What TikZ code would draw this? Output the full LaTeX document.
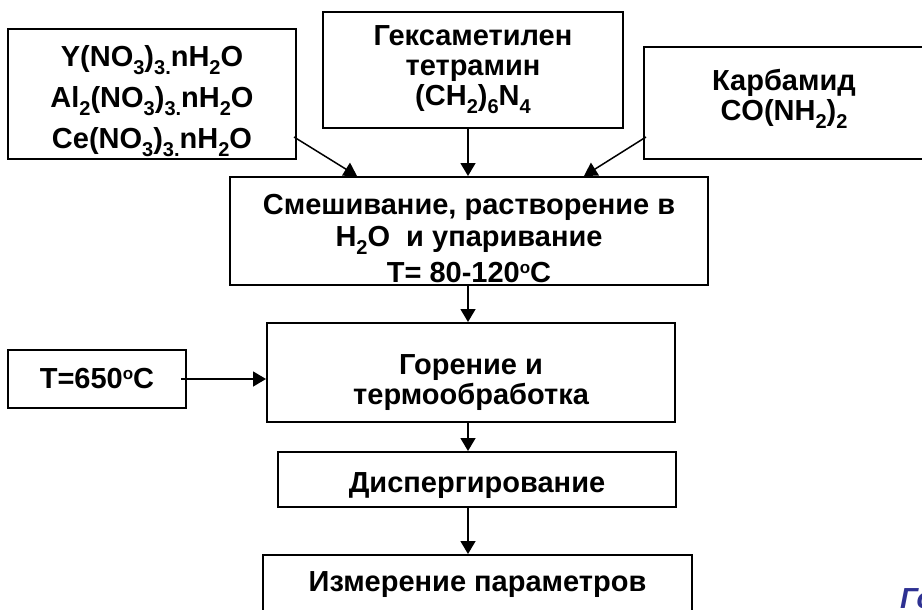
\documentclass[tikz,border=0pt]{standalone}
\usepackage{fontspec}
\setmainfont{Liberation Sans}
\usetikzlibrary{arrows.meta, positioning, calc}
\definecolor{figBlue}{HTML}{2E3192}
\newcommand{\subs}[1]{\raisebox{-8pt}{\fontsize{20}{20}\selectfont #1}}
\newcommand{\degr}{\raisebox{9pt}{\fontsize{17}{17}\selectfont o}}
\tikzset{
  arrowK/.style={-{Triangle[length=13pt, width=15pt]}, line width=1.5pt},
  boxK/.style={rectangle, draw=black, line width=2pt, align=center,
               font=\bfseries\fontsize{29}{30}\selectfont, inner sep=0pt},
}
\begin{document}
\begin{tikzpicture}[x=1pt, y=-1pt]
    \useasboundingbox (0,0) rectangle (922,610);
    \clip (0,0) rectangle (922,610);
    \node[boxK, minimum width=288pt, minimum height=130pt] (nitr) at (152,94)
      {\rule{0pt}{36pt}Y(NO\subs{3})\subs{3.}nH\subs{2}O\\[11pt]
       Al\subs{2}(NO\subs{3})\subs{3.}nH\subs{2}O\\[11pt]
       Ce(NO\subs{3})\subs{3.}nH\subs{2}O};
    \node[boxK, minimum width=300pt, minimum height=116pt] (hexa) at (473,70)
      {Гексаметилен\\тетрамин\\(CH\subs{2})\subs{6}N\subs{4}};
    \node[boxK, minimum width=280pt, minimum height=112pt] (urea) at (784,103)
      {Карбамид\\CO(NH\subs{2})\subs{2}\rule[-16pt]{0pt}{0pt}};
    \node[boxK, minimum width=478pt, minimum height=108pt] (mix) at (469,231)
      {\rule{0pt}{35pt}Смешивание, растворение в\\[2pt]
       H\subs{2}O~ и упаривание\\[6pt]
       T= 80-120\degr C};
    \node[boxK, minimum width=178pt, minimum height=58pt] (temp) at (97,379)
      {T=650\degr C};
    \node[boxK, minimum width=408pt, minimum height=99pt] (burn) at (471,372.5)
      {\rule{0pt}{41pt}Горение и\\термообработка};
    \node[boxK, minimum width=398pt, minimum height=55pt] (disp) at (477,479.5)
      {\rule{0pt}{33pt}Диспергирование};
    \node[boxK, minimum width=429pt, minimum height=59pt] (meas) at (477.5,584.5)
      {Измерение параметров};
    \node[font=\bfseries\itshape\fontsize{29}{30}\selectfont, text=figBlue,
          anchor=base west, inner sep=0pt] (fig) at (900,608) {Го};
    \coordinate (axis) at (468,0);
    \draw[arrowK] ($(nitr.south east)+(-3,-23)$) -- ($(mix.north west)+(128,0)$);
    \draw[arrowK] (hexa.south -| axis) -- (mix.north -| axis);
    \draw[arrowK] ($(urea.south west)+(3,-23)$) -- ($(mix.north east)+(-125,0)$);
    \draw[arrowK] (mix.south -| axis) -- (burn.north -| axis);
    \draw[arrowK] ($(temp.east)+(-6,0)$) -- (temp.east -| burn.west);
    \draw[arrowK] (burn.south -| axis) -- (disp.north -| axis);
    \draw[arrowK] (disp.south -| axis) -- (meas.north -| axis);
\end{tikzpicture}
\end{document}
